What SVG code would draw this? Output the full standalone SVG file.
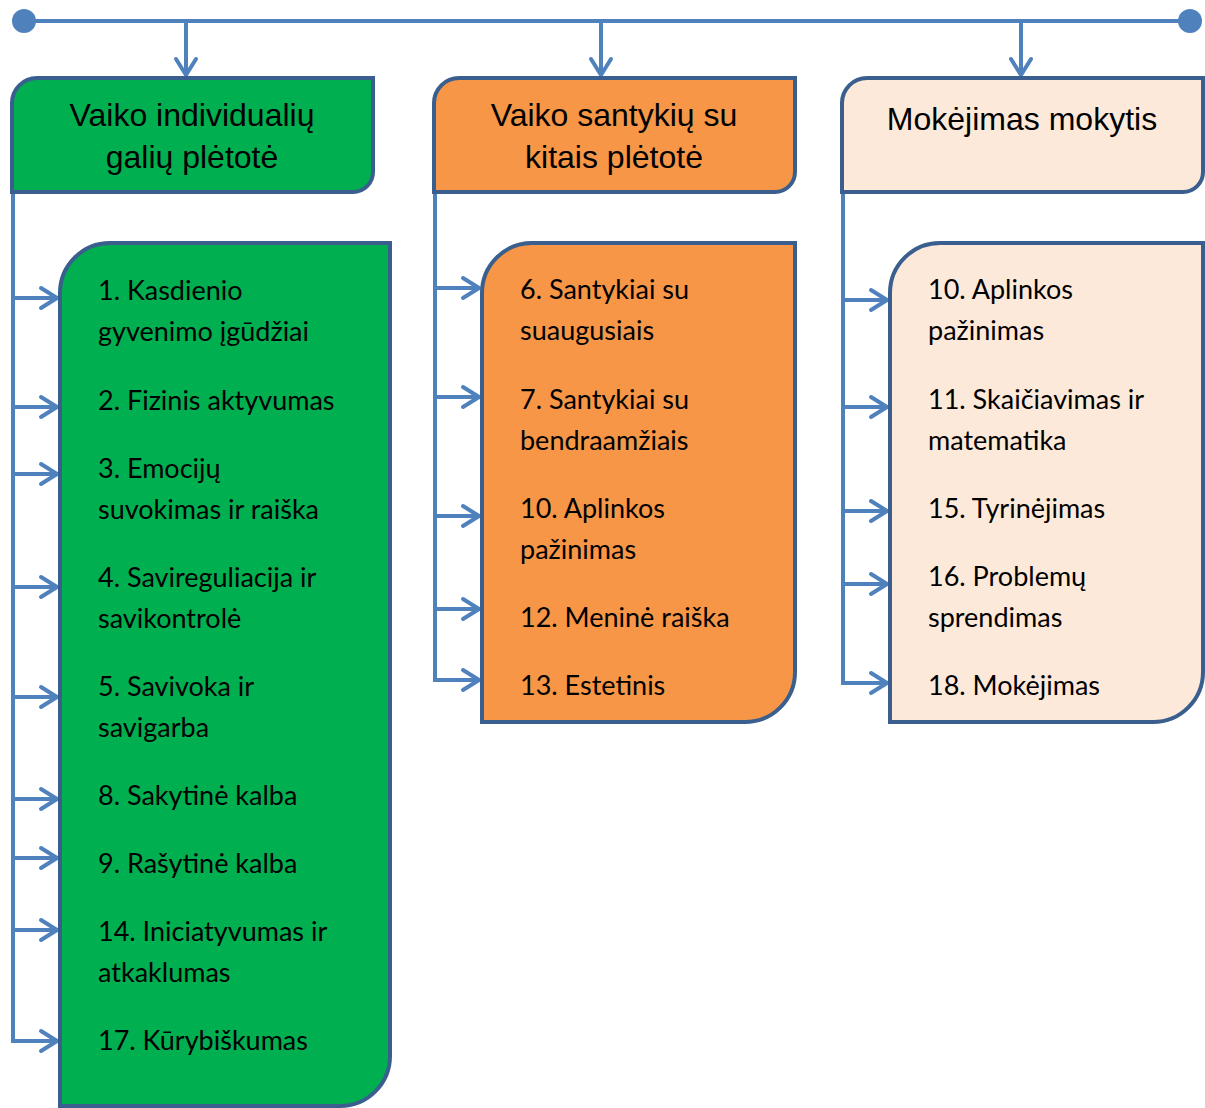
<svg xmlns="http://www.w3.org/2000/svg" width="1205" height="1108" viewBox="0 0 1205 1108">
<style>
.box{stroke:#3A5F8E;stroke-width:4}
.g{fill:#00B050}.o{fill:#F79646}.p{fill:#FDE9D9}
.h{font-family:"Liberation Sans",Arial,sans-serif;font-size:32px;fill:#000;text-anchor:middle}
.t{font-family:Lato,"Open Sans",sans-serif;font-size:27px;fill:#000}
.c{fill:none;stroke:#4F81BD;stroke-width:4}
.ca{fill:none;stroke:#4F81BD;stroke-width:4;marker-end:url(#arr)}
</style>
<defs>
<marker id="arr" markerUnits="userSpaceOnUse" markerWidth="30" markerHeight="30" viewBox="-20 -15 30 30" refX="0" refY="0" orient="auto">
<path d="M-16,-10 L0,0 L-16,10" fill="none" stroke="#4F81BD" stroke-width="4" stroke-linecap="round" stroke-linejoin="round"/>
</marker>
</defs>
<g id="connectors">
<line class="c" x1="24" y1="21" x2="1190" y2="21"/>
<circle cx="24" cy="21" r="12" fill="#4F81BD"/>
<circle cx="1190" cy="21" r="12" fill="#4F81BD"/>
<line class="ca" x1="186" y1="21" x2="186" y2="75"/>
<line class="ca" x1="601" y1="21" x2="601" y2="75"/>
<line class="ca" x1="1021" y1="21" x2="1021" y2="75"/>
<line class="c" x1="13" y1="192" x2="13" y2="1042"/>
<line class="c" x1="435" y1="192" x2="435" y2="682"/>
<line class="c" x1="843" y1="192" x2="843" y2="685"/>
<line class="ca" x1="13" y1="298" x2="57" y2="298"/>
<line class="ca" x1="13" y1="407" x2="57" y2="407"/>
<line class="ca" x1="13" y1="474" x2="57" y2="474"/>
<line class="ca" x1="13" y1="587" x2="57" y2="587"/>
<line class="ca" x1="13" y1="697" x2="57" y2="697"/>
<line class="ca" x1="13" y1="799" x2="57" y2="799"/>
<line class="ca" x1="13" y1="858" x2="57" y2="858"/>
<line class="ca" x1="13" y1="930" x2="57" y2="930"/>
<line class="ca" x1="11" y1="1041" x2="57" y2="1041"/>
<line class="ca" x1="435" y1="288" x2="479" y2="288"/>
<line class="ca" x1="435" y1="397" x2="479" y2="397"/>
<line class="ca" x1="435" y1="516" x2="479" y2="516"/>
<line class="ca" x1="435" y1="609" x2="479" y2="609"/>
<line class="ca" x1="433" y1="680" x2="479" y2="680"/>
<line class="ca" x1="843" y1="300" x2="887" y2="300"/>
<line class="ca" x1="843" y1="407" x2="887" y2="407"/>
<line class="ca" x1="843" y1="511" x2="887" y2="511"/>
<line class="ca" x1="843" y1="584" x2="887" y2="584"/>
<line class="ca" x1="841" y1="683" x2="887" y2="683"/>
</g>
<g id="header1">
<path class="box g" d="M12,103 A25,25 0 0 1 37,78 H373 V172 A20,20 0 0 1 353,192 H12 Z"/>
<text class="h" x="192" y="126">Vaiko individualių</text>
<text class="h" x="192" y="168">galių plėtotė</text>
</g>
<g id="header2">
<path class="box o" d="M434,103 A25,25 0 0 1 459,78 H795 V172 A20,20 0 0 1 775,192 H434 Z"/>
<text class="h" x="614" y="126">Vaiko santykių su</text>
<text class="h" x="614" y="168">kitais plėtotė</text>
</g>
<g id="header3">
<path class="box p" d="M842,103 A25,25 0 0 1 867,78 H1203 V172 A20,20 0 0 1 1183,192 H842 Z"/>
<text class="h" x="1022" y="130">Mokėjimas mokytis</text>
</g>
<g id="list1">
<path class="box g" d="M60,293 A50,50 0 0 1 110,243 H390 V1056 A50,50 0 0 1 340,1106 H60 Z"/>
<text class="t" x="98" y="300">1. Kasdienio</text>
<text class="t" x="98" y="341">gyvenimo įgūdžiai</text>
<text class="t" x="98" y="410">2. Fizinis aktyvumas</text>
<text class="t" x="98" y="478">3. Emocijų</text>
<text class="t" x="98" y="519">suvokimas ir raiška</text>
<text class="t" x="98" y="587">4. Savireguliacija ir</text>
<text class="t" x="98" y="628">savikontrolė</text>
<text class="t" x="98" y="696">5. Savivoka ir</text>
<text class="t" x="98" y="737">savigarba</text>
<text class="t" x="98" y="805">8. Sakytinė kalba</text>
<text class="t" x="98" y="873">9. Rašytinė kalba</text>
<text class="t" x="98" y="941">14. Iniciatyvumas ir</text>
<text class="t" x="98" y="982">atkaklumas</text>
<text class="t" x="98" y="1050">17. Kūrybiškumas</text>
</g>
<g id="list2">
<path class="box o" d="M482,293 A50,50 0 0 1 532,243 H795 V672 A50,50 0 0 1 745,722 H482 Z"/>
<text class="t" x="520" y="299">6. Santykiai su</text>
<text class="t" x="520" y="340">suaugusiais</text>
<text class="t" x="520" y="409">7. Santykiai su</text>
<text class="t" x="520" y="450">bendraamžiais</text>
<text class="t" x="520" y="518">10. Aplinkos</text>
<text class="t" x="520" y="559">pažinimas</text>
<text class="t" x="520" y="627">12. Meninė raiška</text>
<text class="t" x="520" y="695">13. Estetinis</text>
</g>
<g id="list3">
<path class="box p" d="M890,293 A50,50 0 0 1 940,243 H1203 V672 A50,50 0 0 1 1153,722 H890 Z"/>
<text class="t" x="928" y="299">10. Aplinkos</text>
<text class="t" x="928" y="340">pažinimas</text>
<text class="t" x="928" y="409">11. Skaičiavimas ir</text>
<text class="t" x="928" y="450">matematika</text>
<text class="t" x="928" y="518">15. Tyrinėjimas</text>
<text class="t" x="928" y="586">16. Problemų</text>
<text class="t" x="928" y="627">sprendimas</text>
<text class="t" x="928" y="695">18. Mokėjimas</text>
</g>
</svg>
